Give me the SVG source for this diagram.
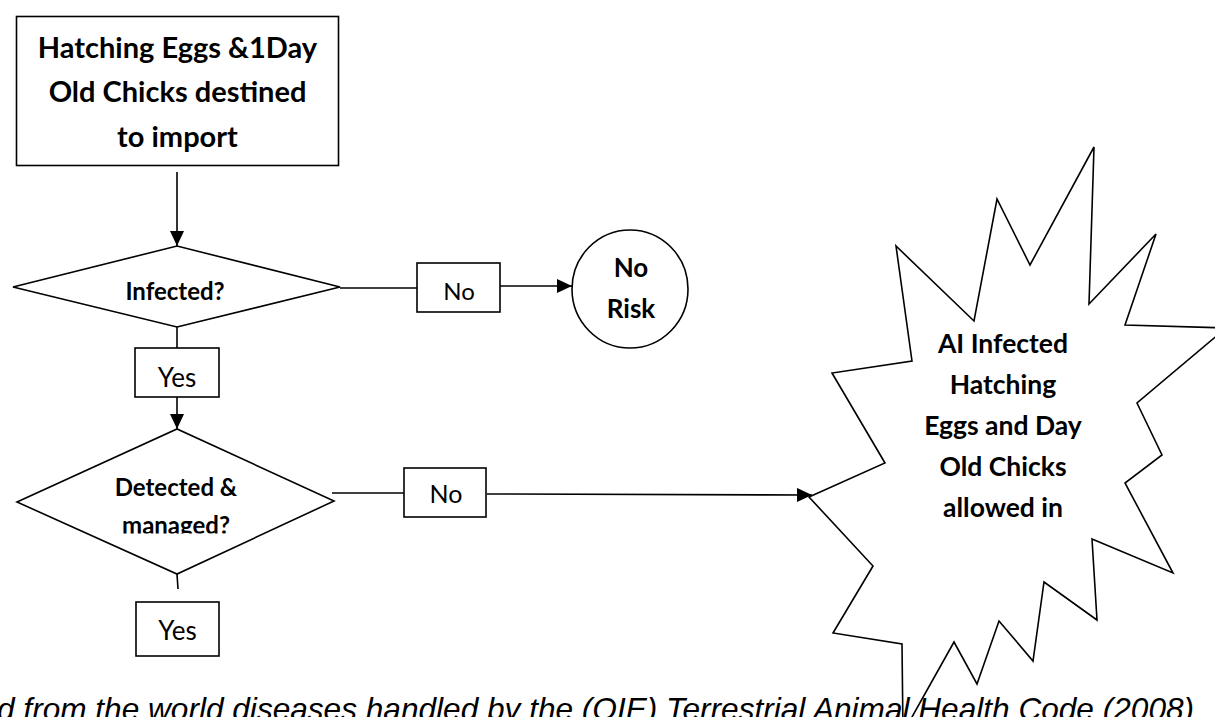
<svg xmlns="http://www.w3.org/2000/svg" width="1215" height="717" viewBox="0 0 1215 717">
  <style>
    .shape { fill: #ffffff; stroke: #000000; stroke-width: 1.6; }
    .wire { fill: none; stroke: #000000; stroke-width: 1.6; }
    .bold { font-family: Lato, "Liberation Sans", sans-serif; font-weight: bold; fill: #000000; text-anchor: middle; }
    .plain { font-family: Lato, "Liberation Sans", sans-serif; font-weight: normal; fill: #000000; text-anchor: middle; }
    .caption { font-family: "Liberation Sans", Arial, sans-serif; font-style: italic; fill: #000000; }
  </style>
  <defs>
    <marker id="head" markerUnits="userSpaceOnUse" markerWidth="15" markerHeight="14" refX="15" refY="7" orient="auto">
      <path d="M0,0 L15,7 L0,14 Z" fill="#000000"/>
    </marker>
    <clipPath id="clipDetected">
      <rect x="0" y="400" width="360" height="133.5"/>
    </clipPath>
  </defs>

  <rect width="1215" height="717" fill="#ffffff"/>

  <!-- connectors -->
  <g id="connectors">
    <line class="wire" x1="177" y1="172" x2="177" y2="246" marker-end="url(#head)"/>
    <line class="wire" x1="340" y1="288" x2="417" y2="288"/>
    <line class="wire" x1="500" y1="286" x2="572" y2="286" marker-end="url(#head)"/>
    <line class="wire" x1="177" y1="327" x2="177" y2="348"/>
    <line class="wire" x1="177" y1="397" x2="177" y2="429" marker-end="url(#head)"/>
    <line class="wire" x1="332" y1="493" x2="404" y2="493"/>
    <line class="wire" x1="487" y1="494" x2="812" y2="495" marker-end="url(#head)"/>
    <line class="wire" x1="177" y1="574" x2="178" y2="589"/>
  </g>

  <!-- start node -->
  <g id="node-import">
    <rect class="shape" x="16.5" y="16.5" width="322" height="149"/>
    <text class="bold" font-size="29" x="177.5" y="58">Hatching Eggs &amp;1Day</text>
    <text class="bold" font-size="29" x="177.5" y="102">Old Chicks destined</text>
    <text class="bold" font-size="29" x="177.5" y="147">to import</text>
  </g>

  <!-- first decision -->
  <g id="node-infected">
    <polygon class="shape" points="13,287 177,246 340,287 177,327"/>
    <text class="bold" font-size="24" x="175" y="300">Infected?</text>
  </g>

  <g id="label-no-1">
    <rect class="shape" x="417" y="263" width="83" height="49"/>
    <text class="plain" font-size="24" x="459" y="300">No</text>
  </g>

  <g id="node-no-risk">
    <ellipse class="shape" cx="630" cy="289" rx="58" ry="59"/>
    <text class="bold" font-size="26" x="631" y="277">No</text>
    <text class="bold" font-size="26" x="631" y="318">Risk</text>
  </g>

  <g id="label-yes-1">
    <rect class="shape" x="135" y="348" width="84" height="49"/>
    <text class="plain" font-size="26" x="177" y="387">Yes</text>
  </g>

  <!-- second decision; its label is clipped by the text frame -->
  <g id="node-detected">
    <polygon class="shape" points="17,502 177,429 334,501 177,574"/>
    <g clip-path="url(#clipDetected)">
      <text class="bold" font-size="24" x="176" y="496">Detected &amp;</text>
      <text class="bold" font-size="24" x="176" y="534">managed?</text>
    </g>
  </g>

  <g id="label-no-2">
    <rect class="shape" x="404" y="468" width="82" height="49"/>
    <text class="plain" font-size="25" x="446" y="503">No</text>
  </g>

  <g id="label-yes-2">
    <rect class="shape" x="136" y="602" width="83" height="54"/>
    <text class="plain" font-size="26" x="177.5" y="640">Yes</text>
  </g>

  <!-- outcome burst -->
  <g id="node-allowed-in">
    <polygon class="shape" points="809,497 885,463 832,373 912,361 896,246 974,321 997,199 1030,265 1094,147 1089,304 1156,234 1125,325 1226,328 1137,403 1162,455 1125,483 1173,573 1092,539 1097,620 1044,582 1033,661 999,621 977,684 954,642 903,733 902,644 833,633 873,566"/>
    <text class="bold" font-size="26.5" x="1003" y="353">AI Infected</text>
    <text class="bold" font-size="26.5" x="1003" y="394">Hatching</text>
    <text class="bold" font-size="26.5" x="1003" y="435">Eggs and Day</text>
    <text class="bold" font-size="26.5" x="1003" y="476">Old Chicks</text>
    <text class="bold" font-size="26.5" x="1003" y="517">allowed in</text>
  </g>

  <!-- source line along the lower edge -->
  <text class="caption" font-size="31.6" x="-3" y="720">d from the world diseases handled by the (OIE) Terrestrial Animal Health Code (2008)</text>
</svg>
